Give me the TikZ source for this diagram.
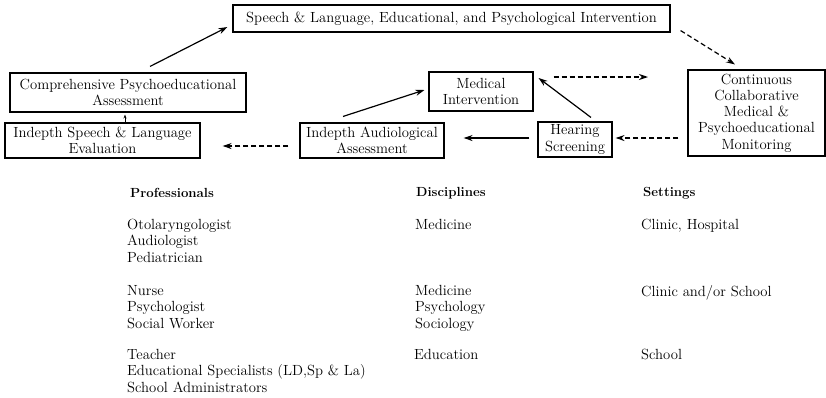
\documentclass[tikz,border=0pt]{standalone}
\usetikzlibrary{arrows.meta,calc}
\begin{document}
\begin{tikzpicture}[x=1pt,y=-1pt,
  box/.style={draw,line width=1.1pt,inner sep=0pt,align=center,font=\fontsize{14.7}{16.2}\selectfont},
  arr/.style={line width=1.2pt,-{Stealth[length=9pt,width=6pt]}},
  darr/.style={arr,dash pattern=on 5pt off 3pt},
  tx/.style={anchor=west,inner sep=0pt,align=left,font=\fontsize{14.7}{16.4}\selectfont},
  hd/.style={tx,font=\fontsize{13.2}{16}\selectfont\bfseries}]
\useasboundingbox (0,0) rectangle (826,397);
\node[box,minimum width=437pt,minimum height=27pt] (top) at (451.5,18.5) {Speech \& Language, Educational, and Psychological Intervention};
\node[box,minimum width=236pt,minimum height=39pt] (comp) at (128,92.5) {Comprehensive Psychoeducational\\Assessment};
\node[box,minimum width=195pt,minimum height=35pt] (speech) at (102.5,140.5) {Indepth Speech \& Language\\Evaluation};
\node[box,minimum width=144pt,minimum height=35pt] (audio) at (372,140.5) {Indepth Audiological\\Assessment};
\node[box,minimum width=104pt,minimum height=39pt] (med) at (481,91.5) {Medical\\Intervention};
\node[box,minimum width=74pt,minimum height=35pt] (hear) at (575,139.5) {Hearing\\Screening};
\node[box,minimum width=137pt,minimum height=86pt] (cont) at (756.5,113) {Continuous\\Collaborative\\Medical \&\\Psychoeducational\\Monitoring};
\coordinate (medend) at (648,77);
\draw[arr] ([shift={(22,-6)}]comp.north) -- ([shift={(-5,8.5)}]top.west);
\draw[darr] ([shift={(10,-2)}]top.south east) -- ([shift={(-21.5,-5)}]cont.north);
\draw[darr] ([shift={(20,-14.5)}]med.east) -- (medend);
\draw[arr] ([shift={(16,-4)}]hear.north) -- ([shift={(5,-13.5)}]med.east);
\draw[arr] ([shift={(-29,-6)}]audio.north) -- ([shift={(-4,-1.5)}]med.west);
\draw[darr] ([shift={(-9,25)}]cont.west) -- ([shift={(3,-1.5)}]hear.east);
\draw[arr] ([shift={(-8,-1.5)}]hear.west) -- ([shift={(19,-2.5)}]audio.east);
\draw[darr] ([shift={(-11,5.5)}]audio.west) -- ([shift={(22,5.5)}]speech.east);
\draw[line width=0.8pt,-{Stealth[length=4pt,width=3pt]}] ([shift={(22.5,0)}]speech.north) -- ([shift={(-3,2)}]comp.south);
% table
\node[hd] (h1) at (130,193) {Professionals};
\node[hd] (h2) at (416,193) {Disciplines};
\node[hd] (h3) at (643,193) {Settings};
\node[tx,anchor=north west] (p1) at (127,219) {Otolaryngologist\\Audiologist\\Pediatrician};
\node[tx,anchor=north west] (p2) at (127,285) {Nurse\\Psychologist\\Social Worker};
\node[tx,anchor=north west] (p3) at (127,349) {Teacher\\Educational Specialists (LD,Sp \& La)\\School Administrators};
\node[tx,anchor=north west] (d1) at (415,219) {Medicine};
\node[tx,anchor=north west] (d2) at (415,285) {Medicine\\Psychology\\Sociology};
\node[tx,anchor=north west] (d3) at (414,349) {Education};
\node[tx,anchor=north west] (s1) at (641,219) {Clinic, Hospital};
\node[tx,anchor=north west] (s2) at (641,285) {Clinic and/or School};
\node[tx,anchor=north west] (s3) at (641,349) {School};
\end{tikzpicture}
\end{document}
